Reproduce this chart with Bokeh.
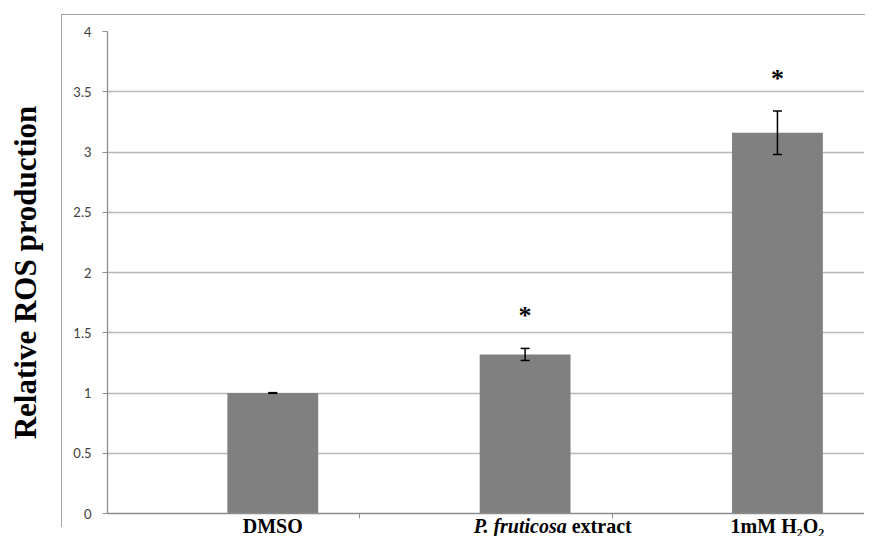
from bokeh.plotting import figure
from bokeh.layouts import column
from bokeh.models import (ColumnDataSource, Whisker, TeeHead, FixedTicker, Range1d,
                          InlineStyleSheet)
from bokeh.core.properties import value
from bokeh.embed import file_html
from bokeh.resources import INLINE

# ---- data ----
categories = ["DMSO", "P. fruticosa extract", "1mM H\u2082O\u2082"]
ros_values = [1.0, 1.32, 3.16]
ros_errors = [0.003, 0.05, 0.18]
significant = [False, True, True]
y_ticks = [0, 0.5, 1, 1.5, 2, 2.5, 3, 3.5, 4]
y_tick_labels = ["0", "0.5", "1", "1.5", "2", "2.5", "3", "3.5", "4"]

# ---- layout constants ----
BAR_SHIFT = 0.155
BAR_WIDTH = 0.36
STAR_GAP = 0.27
SPLIT_SHIFT = 0.165

idx = list(range(len(categories)))
xpos = [i + 0.5 + BAR_SHIFT for i in idx]
upper = [v + e for v, e in zip(ros_values, ros_errors)]
lower = [v - e for v, e in zip(ros_values, ros_errors)]

src = ColumnDataSource(dict(x=xpos, top=ros_values, upper=upper, lower=lower))

W = 864
p = figure(width=W, height=524, output_backend="svg", toolbar_location=None,
           x_range=Range1d(0, len(categories)), y_range=Range1d(0, 4),
           min_border_left=107, min_border_right=0, min_border_top=31, min_border_bottom=11)
p.outline_line_color = None
p.background_fill_color = "white"
p.border_fill_color = None

p.vbar(x="x", top="top", width=BAR_WIDTH, bottom=0, source=src,
       fill_color="#808080", line_color=None)

p.add_layout(Whisker(base="x", upper="upper", lower="lower", source=src, level="overlay",
                     line_color="black", line_width=1.5,
                     upper_head=TeeHead(size=9, line_color="black", line_width=1.5),
                     lower_head=TeeHead(size=9, line_color="black", line_width=1.5)))

# significance stars
sx = [x for x, s in zip(xpos, significant) if s]
sy = [u + STAR_GAP for u, s in zip(upper, significant) if s]
p.text(x=sx, y=sy, text=["*"] * len(sx), text_align="center", text_baseline="middle",
       text_font=value("Liberation Serif"), text_font_size="26px", text_font_style="bold",
       text_color="black")

# grid
p.xgrid.visible = False
p.ygrid.ticker = FixedTicker(ticks=y_ticks)
p.ygrid.grid_line_color = "#b8b8b8"
p.ygrid.grid_line_width = 1.3

# y axis
p.yaxis.ticker = FixedTicker(ticks=y_ticks)
p.yaxis.major_label_overrides = {t: l for t, l in zip(y_ticks, y_tick_labels)}
p.yaxis.major_label_text_font = "Lato"
p.yaxis.major_label_text_font_size = "13px"
p.yaxis.major_label_text_color = "#404040"
p.yaxis.axis_line_color = "#8c8c8c"
p.yaxis.axis_line_width = 1.3
p.yaxis.major_tick_line_color = "#8c8c8c"
p.yaxis.major_tick_out = 5
p.yaxis.major_tick_in = 0
p.yaxis.minor_tick_line_color = None
p.yaxis.major_label_standoff = 11
p.yaxis.axis_label = "Relative ROS production"
p.yaxis.axis_label_text_font = "Liberation Serif"
p.yaxis.axis_label_text_font_style = "bold"
p.yaxis.axis_label_text_font_size = "31px"
p.yaxis.axis_label_text_color = "black"
p.yaxis.axis_label_standoff = 27

# x axis: only boundary tick marks; category labels drawn in the strip below
p.xaxis.ticker = FixedTicker(ticks=[], minor_ticks=[i + 1 for i in idx])
p.xaxis.major_label_standoff = 0
p.xaxis.minor_tick_line_color = "#8c8c8c"
p.xaxis.minor_tick_out = 5
p.xaxis.minor_tick_in = 0
p.xaxis.axis_line_color = "#8c8c8c"
p.xaxis.axis_line_width = 1.3

# ---- category label strip (shares x range), overlapping the main figure's bottom margin ----
lab = figure(width=W, height=22, output_backend="svg", toolbar_location=None,
             x_range=p.x_range, y_range=Range1d(0, 1),
             x_axis_location=None, y_axis_location=None,
             min_border_left=107, min_border_right=0, min_border_top=0, min_border_bottom=0,
             styles={"margin-top": "-10px"})
lab.outline_line_color = None
lab.grid.visible = False
lab.border_fill_color = None
lab.background_fill_color = None

font = value("Liberation Serif")
LY = 0.5
common = dict(text_baseline="middle", text_font=font, text_font_size="20px", text_color="black")
ital, rest = categories[1].rsplit(" ", 1)
lab.text(x=[xpos[0], xpos[2]], y=[LY, LY], text=[categories[0], categories[2]],
         text_align="center", text_font_style="bold", **common)
lab.text(x=[xpos[1] + SPLIT_SHIFT], y=[LY], text=[ital], text_align="right",
         text_font_style="bold italic", **common)
lab.text(x=[xpos[1] + SPLIT_SHIFT], y=[LY], text=[rest], text_align="left", x_offset=5,
         text_font_style="bold", **common)

# outer chart-area border (partially visible, as in the reference)
frame_css = InlineStyleSheet(css="""
:host { position: relative; }
:host::after {
  content: ""; position: absolute; left: 61px; top: 14px; width: 803px; height: 512px;
  border-left: 1.5px solid #a6a6a6; border-top: 1.5px solid #a6a6a6;
  pointer-events: none; z-index: -1;
}
""")
layout = column(p, lab, spacing=0, stylesheets=[frame_css])

open("out.html", "w").write(file_html(layout, INLINE))
